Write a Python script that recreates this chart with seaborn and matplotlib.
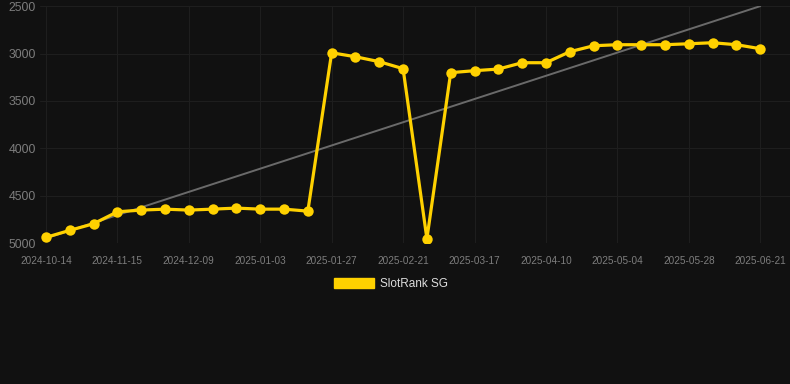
import numpy as np
import pandas as pd
import seaborn as sns
import matplotlib.pyplot as plt
from matplotlib.patches import Patch

# weekly-ish rank readings (lower is better, axis is inverted)
rank = [4940, 4866, 4796, 4670, 4652, 4642, 4652, 4642, 4631, 4642, 4642, 4663,
        2992, 3034, 3086, 3160, 4954, 3202, 3181, 3164, 3097, 3097, 2981, 2918,
        2907, 2907, 2907, 2897, 2886, 2907, 2949]
tick_labels = ['2024-10-14', '2024-11-15', '2024-12-09', '2025-01-03', '2025-01-27',
               '2025-02-21', '2025-03-17', '2025-04-10', '2025-05-04', '2025-05-28',
               '2025-06-21']
trend_ends = [4950, 2500]

df = pd.DataFrame({'idx': np.arange(len(rank)), 'rank': rank})
trend = pd.DataFrame({'idx': [0, len(rank) - 1], 'rank': trend_ends})

bg = '#111111'
grid = '#1e1e1e'
yellow = '#FFD100'

sns.set_style('dark')
plt.rcParams['font.family'] = ['Liberation Sans', 'DejaVu Sans']

fig = plt.figure(figsize=(7.9, 3.84), dpi=100, facecolor=bg)
ax = fig.add_axes([0.0506, 0.367, 0.9494, 0.617])
ax.set_facecolor(bg)

sns.lineplot(data=trend, x='idx', y='rank', ax=ax, color='#6a6a6a', linewidth=1.4, zorder=2)
sns.lineplot(data=df, x='idx', y='rank', ax=ax, color=yellow, linewidth=2.3,
             marker='o', markersize=7.5, markeredgewidth=0, zorder=3)

ax.set_ylim(5000, 2500)
ax.set_yticks([2500, 3000, 3500, 4000, 4500, 5000])
ax.set_xlim(-0.25, 31.25)
ax.set_xticks(np.arange(0, len(rank), 3))
ax.set_xticklabels(tick_labels)
ax.set_xlabel('')
ax.set_ylabel('')

ax.grid(True, color=grid, linewidth=0.8)
for s in ax.spines.values():
    s.set_visible(False)
ax.tick_params(axis='x', colors=grid, length=5, width=0.8, pad=4, labelsize=7.2, labelcolor='#7d7d7d')
ax.tick_params(axis='y', length=0, pad=3, labelsize=8.8, labelcolor='#7d7d7d')

fig.legend(handles=[Patch(facecolor=yellow, edgecolor=yellow)], labels=['SlotRank SG'],
           loc='center', bbox_to_anchor=(0.495, 0.26), frameon=False,
           handlelength=3.4, handleheight=0.85, handletextpad=0.5,
           fontsize=8.5, labelcolor='#dddddd')

fig.savefig('out.png', dpi=100, facecolor=bg)
